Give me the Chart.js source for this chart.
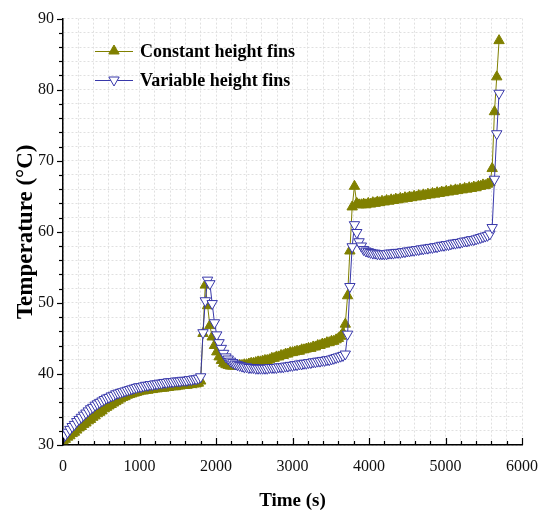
<!DOCTYPE html>
<html>
<head>
<meta charset="utf-8">
<script src="https://cdn.jsdelivr.net/npm/chart.js@4/dist/chart.umd.min.js"></script>
<style>
  html, body { margin: 0; padding: 0; background: #fff; }
  #wrap { width: 538px; height: 521px; }
</style>
</head>
<body>
<div id="wrap"><canvas id="c" width="538" height="521"></canvas></div>
<script>
// Sampling times (s)
const timeS = [
  0,30,60,90,120,150,180,210,240,270,
  300,330,360,390,420,450,480,510,540,570,
  600,630,660,690,720,750,780,810,840,870,
  900,930,960,990,1020,1050,1080,1110,1140,1170,
  1200,1230,1260,1290,1320,1350,1380,1410,1440,1470,
  1500,1530,1560,1590,1620,1650,1680,1710,1740,1770,
  1800,1830,1860,1890,1920,1950,1980,2010,2040,2070,
  2100,2130,2160,2190,2220,2250,2280,2310,2340,2370,
  2400,2430,2460,2490,2520,2550,2580,2610,2640,2670,
  2700,2730,2760,2790,2820,2850,2880,2910,2940,2970,
  3000,3030,3060,3090,3120,3150,3180,3210,3240,3270,
  3300,3330,3360,3390,3420,3450,3480,3510,3540,3570,
  3600,3630,3660,3690,3720,3750,3780,3810,3840,3870,
  3900,3930,3960,3990,4020,4050,4080,4110,4140,4170,
  4200,4230,4260,4290,4320,4350,4380,4410,4440,4470,
  4500,4530,4560,4590,4620,4650,4680,4710,4740,4770,
  4800,4830,4860,4890,4920,4950,4980,5010,5040,5070,
  5100,5130,5160,5190,5220,5250,5280,5310,5340,5370,
  5400,5430,5460,5490,5520,5550,5580,5610,5640,5670,
  5700
];

// Temperature (°C), constant height fins
const constantFins = [
  30.6,30.8,31.1,31.3,31.6,31.8,32.1,32.4,32.6,32.9,
  33.1,33.4,33.6,33.9,34.1,34.4,34.6,34.8,35.1,35.3,
  35.5,35.7,35.9,36.1,36.3,36.5,36.7,36.8,37.0,37.1,
  37.2,37.3,37.4,37.5,37.6,37.6,37.7,37.7,37.8,37.8,
  37.9,37.9,38.0,38.0,38.0,38.1,38.1,38.2,38.2,38.2,
  38.3,38.3,38.4,38.4,38.4,38.5,38.5,38.6,38.6,38.7,
  39.0,45.7,52.5,49.6,46.8,45.2,44.0,43.1,42.4,41.9,
  41.5,41.3,41.2,41.1,41.1,41.1,41.1,41.2,41.2,41.3,
  41.3,41.4,41.5,41.5,41.6,41.7,41.7,41.8,41.9,41.9,
  42.0,42.2,42.2,42.4,42.4,42.6,42.6,42.8,42.8,43.0,
  43.0,43.1,43.2,43.2,43.4,43.4,43.5,43.6,43.6,43.8,
  43.8,44.0,44.0,44.2,44.2,44.4,44.4,44.6,44.6,44.8,
  45.0,45.3,45.8,47.0,51.0,57.3,63.5,66.4,64.0,63.8,
  63.8,63.9,63.8,64.0,63.9,64.1,64.0,64.2,64.1,64.3,
  64.2,64.4,64.3,64.5,64.4,64.6,64.5,64.7,64.6,64.8,
  64.7,64.9,64.8,65.0,64.9,65.1,65.0,65.2,65.1,65.3,
  65.2,65.4,65.3,65.5,65.4,65.6,65.5,65.7,65.6,65.8,
  65.7,65.9,65.8,66.0,65.9,66.1,66.0,66.2,66.1,66.3,
  66.2,66.4,66.4,66.6,66.5,66.7,66.9,68.9,76.9,81.8,
  86.9
];

// Temperature (°C), variable height fins
const variableFins = [
  31.0,31.4,31.8,32.2,32.6,32.9,33.3,33.6,33.9,34.2,
  34.5,34.8,35.1,35.3,35.6,35.8,36.0,36.2,36.4,36.6,
  36.7,36.9,37.0,37.2,37.3,37.4,37.5,37.6,37.7,37.8,
  37.9,38.0,38.1,38.2,38.2,38.3,38.4,38.4,38.5,38.5,
  38.6,38.6,38.7,38.7,38.8,38.8,38.9,38.9,38.9,39.0,
  39.0,39.0,39.1,39.1,39.1,39.2,39.2,39.3,39.3,39.4,
  39.6,45.8,50.3,53.2,52.7,49.9,47.2,45.5,44.4,43.6,
  42.9,42.4,42.1,41.8,41.6,41.4,41.3,41.2,41.1,41.0,
  41.0,40.9,40.9,40.9,40.8,40.8,40.8,40.8,40.8,40.8,
  40.9,40.9,40.9,40.9,41.0,41.0,41.0,41.1,41.1,41.2,
  41.2,41.3,41.3,41.4,41.4,41.5,41.5,41.6,41.6,41.7,
  41.7,41.8,41.8,41.9,41.9,42.0,42.0,42.1,42.2,42.3,
  42.4,42.5,42.6,42.8,45.6,52.3,57.9,61.0,59.9,58.6,
  58.0,57.5,57.3,57.2,57.1,57.0,57.0,56.9,56.9,56.9,
  56.9,56.9,57.0,57.0,57.0,57.1,57.1,57.1,57.2,57.2,
  57.3,57.3,57.4,57.4,57.5,57.5,57.6,57.6,57.7,57.7,
  57.8,57.8,57.9,57.9,58.0,58.1,58.1,58.2,58.2,58.3,
  58.4,58.4,58.5,58.5,58.6,58.7,58.7,58.8,58.9,58.9,
  59.0,59.1,59.2,59.3,59.4,59.5,59.7,60.6,67.4,73.8,
  79.5
];

const seriesNames = ['Constant height fins', 'Variable height fins'];
const OLIVE = '#808000';
const BLUE = '#3838aa';
const SERIF = '"Liberation Serif", "Times New Roman", serif';

const pairs = (vals) => vals.map((v, i) => ({ x: timeS[i], y: v }));

function triangle(ctx, x, y, r, down) {
  // same geometry as Chart.js 'triangle' point style
  const s = down ? -1 : 1;
  const half = r * Math.sqrt(3) / 2;
  ctx.beginPath();
  ctx.moveTo(x, y - s * r);
  ctx.lineTo(x + half, y + s * r / 2);
  ctx.lineTo(x - half, y + s * r / 2);
  ctx.closePath();
}

// Minor/major tick marks and the inset legend
const decorations = {
  id: 'decorations',
  afterDraw(chart) {
    const { ctx, chartArea: a, scales } = chart;
    ctx.save();
    ctx.strokeStyle = '#000';
    ctx.lineWidth = 1.2;
    scales.y.ticks.forEach(t => {
      const py = Math.round(scales.y.getPixelForValue(t.value)) + 0.5;
      const len = t.value % 10 === 0 ? 6 : 4;
      ctx.beginPath(); ctx.moveTo(a.left - len, py); ctx.lineTo(a.left, py); ctx.stroke();
    });
    scales.x.ticks.forEach(t => {
      const px = Math.round(scales.x.getPixelForValue(t.value)) + 0.5;
      const len = t.value % 1000 === 0 ? 7 : 4;
      ctx.beginPath(); ctx.moveTo(px, a.bottom); ctx.lineTo(px, a.bottom - len); ctx.stroke();
    });

    // legend
    const rows = [
      { name: seriesNames[0], color: OLIVE, fill: OLIVE, down: false, y: 51 },
      { name: seriesNames[1], color: BLUE, fill: '#fff', down: true, y: 80 }
    ];
    ctx.font = 'bold 18px ' + SERIF;
    ctx.textBaseline = 'middle';
    ctx.textAlign = 'left';
    rows.forEach(r => {
      ctx.strokeStyle = r.color;
      ctx.lineWidth = 1;
      ctx.beginPath(); ctx.moveTo(95, r.y + 0.5); ctx.lineTo(133, r.y + 0.5); ctx.stroke();
      triangle(ctx, 114, r.y, 6, r.down);
      ctx.fillStyle = r.fill; ctx.fill();
      ctx.strokeStyle = r.color; ctx.stroke();
      ctx.fillStyle = '#000';
      ctx.fillText(r.name, 140, r.y + 1);
    });
    ctx.restore();
  }
};

new Chart(document.getElementById('c'), {
  type: 'line',
  data: {
    datasets: [
      {
        label: seriesNames[1],
        data: pairs(variableFins),
        order: 0,
        borderColor: BLUE,
        borderWidth: 1,
        pointStyle: 'triangle',
        pointRotation: 180,
        pointRadius: 6,
        pointBorderWidth: 1,
        pointBackgroundColor: '#fff',
        pointBorderColor: BLUE,
        tension: 0
      },
      {
        label: seriesNames[0],
        data: pairs(constantFins),
        order: 1,
        borderColor: OLIVE,
        borderWidth: 1,
        pointStyle: 'triangle',
        pointRadius: 6,
        pointBorderWidth: 1,
        pointBackgroundColor: OLIVE,
        pointBorderColor: OLIVE,
        tension: 0
      }
    ]
  },
  options: {
    responsive: false,
    animation: false,
    devicePixelRatio: 1,
    layout: { padding: { top: 17, right: 0, left: 0, bottom: 0 } },
    plugins: { legend: { display: false }, tooltip: { enabled: false } },
    scales: {
      x: {
        type: 'linear',
        min: 0, max: 6000,
        afterFit: s => { s.height = 76; s.paddingRight = 16; s.paddingLeft = 0; },
        ticks: {
          stepSize: 200, autoSkip: false, maxRotation: 0,
          callback: v => (v % 1000 === 0 ? v : ''),
          color: '#111', padding: 12,
          font: { family: SERIF, size: 16 }
        },
        grid: { color: '#e0e0e0', lineWidth: 1, drawTicks: false },
        border: { color: '#000', width: 1.5, dash: [2, 2] },
        title: {
          display: true, text: 'Time (s)', color: '#000',
          font: { family: SERIF, size: 19, weight: 'bold' },
          padding: { top: 0, bottom: 9 }
        }
      },
      y: {
        min: 30, max: 90,
        afterFit: s => { s.width = 63; },
        ticks: {
          stepSize: 2, autoSkip: false,
          callback: v => (v % 10 === 0 ? v : ''),
          color: '#111', padding: 9,
          font: { family: SERIF, size: 16 }
        },
        grid: { color: '#e0e0e0', lineWidth: 1, drawTicks: false },
        border: { color: '#000', width: 1.5, dash: [2, 2] },
        title: {
          display: true, text: 'Temperature (°C)', color: '#000',
          font: { family: SERIF, size: 23, weight: 'bold' },
          padding: { top: 12, bottom: 0 }
        }
      }
    }
  },
  plugins: [decorations]
});
</script>
</body>
</html>
